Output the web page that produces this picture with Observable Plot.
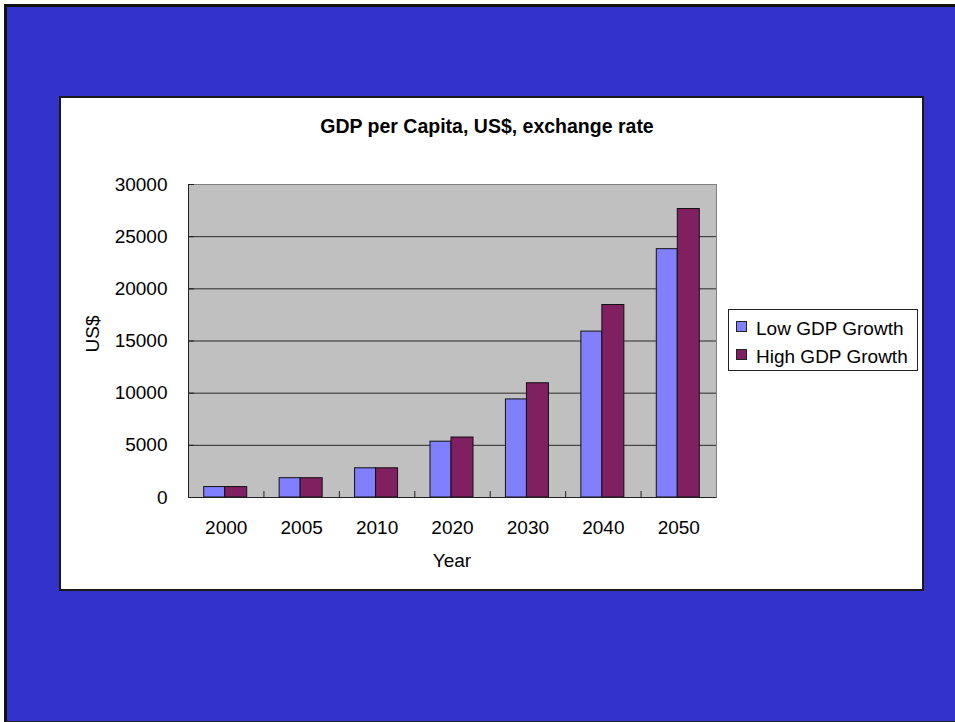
<!DOCTYPE html>
<html><head><meta charset="utf-8">
<script src="https://cdn.jsdelivr.net/npm/d3@7"></script>
<script src="https://cdn.jsdelivr.net/npm/@observablehq/plot@0.6"></script>
<style>
html,body{margin:0;padding:0;}
body{width:955px;height:722px;position:relative;background:#fff;overflow:hidden;font-family:Arial,"Liberation Sans",sans-serif;color:#000;}
#bg{position:absolute;left:4px;top:4px;width:951px;height:718px;background:#3333CC;border-left:3px solid #111;border-top:3px solid #111;border-bottom:1px solid #222;box-sizing:border-box;}
#panel{position:absolute;left:59px;top:96px;width:865px;height:495px;background:#fff;border:2px solid #1a1a1a;box-sizing:border-box;}
#chart{position:absolute;left:0;top:0;}
.t{position:absolute;white-space:nowrap;line-height:1;}
#title{left:487px;top:117px;transform:translateX(-50%);font-weight:bold;font-size:19.5px;}
#xlab{left:452px;top:551px;transform:translateX(-50%);font-size:19px;}
#ylab{left:91.5px;top:334px;transform:translate(-50%,-50%) rotate(-90deg);font-size:19px;}
#legend{position:absolute;left:728px;top:309px;width:190px;height:62px;border:1px solid #222;background:#fff;box-sizing:border-box;}
.sw{position:absolute;width:11px;height:11px;border:1px solid #222;box-sizing:border-box;}
</style>
</head><body>
<div id="bg"></div>
<div id="panel"></div>
<div id="chart"></div>
<div class="t" id="title"></div>
<div class="t" id="xlab"></div>
<div class="t" id="ylab"></div>
<div id="legend"></div>
<script>
const chartTitle = "GDP per Capita, US$, exchange rate";
const xTitle = "Year";
const yTitle = "US$";
const years = ["2000","2005","2010","2020","2030","2040","2050"];
const lowGrowth  = [1000, 1850, 2800, 5350,  9400, 15900, 23800];
const highGrowth = [1000, 1850, 2800, 5750, 10950, 18450, 27650];
const seriesNames = ["Low GDP Growth", "High GDP Growth"];
const seriesColors = ["#8080FF", "#802060"];
const yTicks = [0, 5000, 10000, 15000, 20000, 25000, 30000];

const lowData = years.map((y, i) => ({year: y, value: lowGrowth[i]}));
const highData = years.map((y, i) => ({year: y, value: highGrowth[i]}));

const frameL = 188, frameR = 716, frameT = 184, frameB = 497, W = 955, H = 722;
const bw = (frameR - frameL) / years.length;
const half = bw / 2;

const plot = Plot.plot({
  width: W, height: H,
  marginLeft: frameL, marginRight: W - frameR, marginTop: frameT, marginBottom: H - frameB,
  style: {background: "transparent", fontFamily: "Arial, 'Liberation Sans', sans-serif", fontSize: "19px", color: "#000", overflow: "visible"},
  x: {domain: years, padding: 0, round: false, label: null, tickSize: 0, tickPadding: 23},
  y: {domain: [0, 30000], label: null, ticks: yTicks, tickFormat: "d", tickSize: 0, tickPadding: 21},
  marks: [
    Plot.frame({fill: "#C0C0C0", stroke: "#808080"}),
    Plot.ruleY(yTicks.filter(v => v > 0 && v < 30000), {stroke: "#2a2a2a"}),
    Plot.barY(lowData, {x: "year", y: "value", fill: seriesColors[0], stroke: "#111", strokeWidth: 1, insetLeft: half - 22, insetRight: half + 1}),
    Plot.barY(highData, {x: "year", y: "value", fill: seriesColors[1], stroke: "#111", strokeWidth: 1, insetLeft: half - 1, insetRight: half - 21}),
    Plot.ruleY([0], {stroke: "#222"}),
    Plot.ruleX([years[0]], {x: d => d, dx: -half, stroke: "#222"}),
    Plot.ruleX(years.slice(1), {x: d => d, y1: 0, y2: 0, dx: -half, insetTop: -6, stroke: "#222"}),
    Plot.ruleY(yTicks, {insetRight: (frameR - frameL) - 6, stroke: "#222"})
  ]
});
document.getElementById("chart").appendChild(plot);

document.getElementById("title").textContent = chartTitle;
document.getElementById("xlab").textContent = xTitle;
document.getElementById("ylab").textContent = yTitle;

const legend = document.getElementById("legend");
seriesNames.forEach((name, i) => {
  const sw = document.createElement("div");
  sw.className = "sw";
  sw.style.left = "7px";
  sw.style.top = (11 + i * 27.5) + "px";
  sw.style.background = seriesColors[i];
  legend.appendChild(sw);
  const tx = document.createElement("div");
  tx.className = "t";
  tx.style.left = "27px";
  tx.style.top = (9 + i * 27.5) + "px";
  tx.style.fontSize = "19px";
  tx.textContent = name;
  legend.appendChild(tx);
});
</script>
</body></html>
